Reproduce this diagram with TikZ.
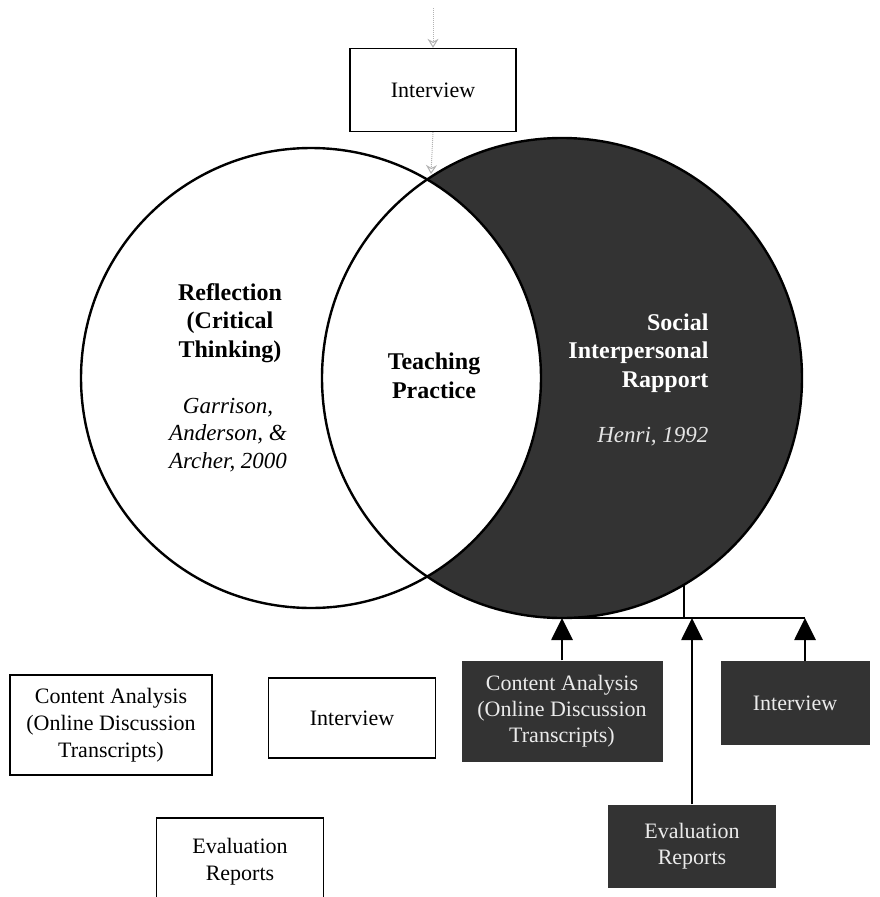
\documentclass[tikz,border=0pt]{standalone}
\usepackage{fontspec}
\setmainfont{Liberation Serif}
\usetikzlibrary{arrows.meta}

\begin{document}
\begin{tikzpicture}[x=1pt,y=-1pt,
        box/.style={draw,line width=1.3pt,align=center,inner sep=0pt,font=\fontsize{22}{27}\selectfont},
        darkbox/.style={fill=black!80,text=black!8,align=center,inner sep=0pt,font=\fontsize{22}{26}\selectfont},
        head/.style={align=center,font=\fontsize{24}{28.5}\selectfont\bfseries},
        cite/.style={align=center,font=\fontsize{23}{27.5}\selectfont\itshape},
        link/.style={line width=2.8pt},
        up/.style={link,-{Triangle[width=21pt,length=22pt]}},
        faint/.style={black!30,densely dotted,line width=1pt,-{Stealth[open,length=9pt,width=11pt]}}]
        \pgfmathsetmacro{\rl}{230}
        \pgfmathsetmacro{\rr}{240}

        \useasboundingbox (0,0) rectangle (879,897);
        \coordinate (cl) at (311,378);
        \coordinate (cr) at (562,378);

        \begin{scope}
            \clip (cr) circle (\rr pt);
            \fill[black!80,even odd rule] (cr) circle (\rr pt) (cl) circle (\rl pt);
        \end{scope}
        \draw[line width=2.4pt] (cl) circle (\rl pt);
        \draw[line width=2.4pt] (cr) circle (\rr pt);

        \node[box,minimum width=166pt,minimum height=83pt] (topiv) at (433,90) {Interview};
        \coordinate (src) at (433,8);
        \coordinate (meet) at (431,174);
        \draw[faint] (src) -- (topiv.north);
        \draw[faint] (topiv.south) -- (meet);

        \node[head] (refl) at (230,323) {Reflection\\(Critical\\Thinking)};
        \node[cite] (reflcite) at (228,435) {Garrison,\\Anderson, \&\\Archer, 2000};
        \node[head] (teach) at (434,376) {Teaching\\Practice};
        \node[head,align=right,anchor=east,text=white] (social) at (712,353) {Social\\Interpersonal\\Rapport};
        \node[cite,anchor=east,text=black!10] (socialcite) at (712,437) {Henri, 1992};

        \node[box,minimum width=202pt,minimum height=100pt] (caw) at (111,725) {Content Analysis\\(Online Discussion\\Transcripts)};
        \node[box,minimum width=167pt,minimum height=80pt] (ivw) at (352,718) {Interview};
        \node[box,minimum width=167pt,minimum height=88pt] (evw) at (240,862) {Evaluation\\Reports};

        \node[darkbox,minimum width=201pt,minimum height=101pt] (cad) at (562,711) {Content Analysis\\(Online Discussion\\Transcripts)};
        \node[darkbox,minimum width=149pt,minimum height=84pt] (ivd) at (795,703) {Interview};
        \node[darkbox,minimum width=168pt,minimum height=83pt] (evd) at (692,846) {Evaluation\\Reports};

        \coordinate (stem) at (684,584);
        \coordinate (bus) at (684,618);
        \coordinate (ivtip) at ([xshift=10pt]ivd.north);
        \draw[link] (stem) -- (bus);
        \draw[link] (cad.north |- bus) -- (ivtip |- bus);
        \draw[up] (cad.north) -- (cad.north |- bus);
        \draw[up] (evd.north) -- (evd.north |- bus);
        \draw[up] (ivtip) -- (ivtip |- bus);
    \end{tikzpicture}
\end{document}
